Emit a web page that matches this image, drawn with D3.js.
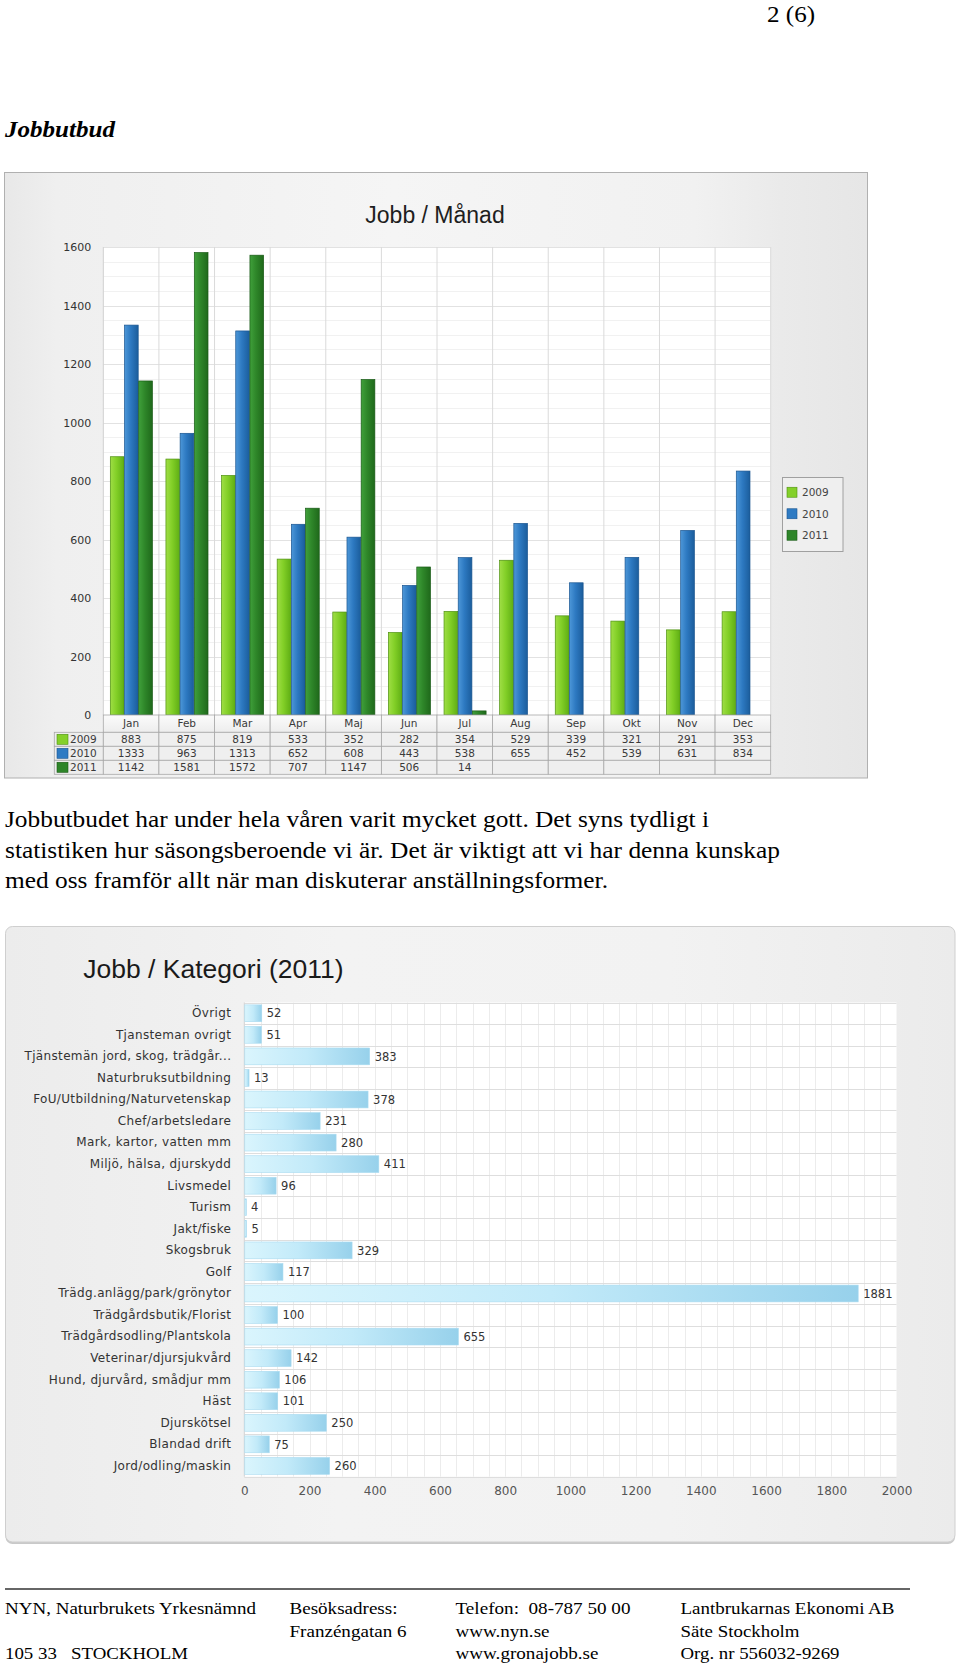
<!DOCTYPE html>
<html><head><meta charset="utf-8">
<script src="https://cdn.jsdelivr.net/npm/d3@7"></script>
<style>html,body{margin:0;padding:0;background:#fff;} svg{display:block;}</style>
</head><body>
<svg id="page" width="960" height="1664"></svg>
<script>
// ---------- DATA ----------
const months = ["Jan","Feb","Mar","Apr","Maj","Jun","Jul","Aug","Sep","Okt","Nov","Dec"];
const years = ["2009","2010","2011"];
const jobs2009 = [883, 875, 819, 533, 352, 282, 354, 529, 339, 321, 291, 353];
const jobs2010 = [1333, 963, 1313, 652, 608, 443, 538, 655, 452, 539, 631, 834];
const jobs2011 = [1142, 1581, 1572, 707, 1147, 506, 14, null, null, null, null, null];
const yTicksMonth = [0, 200, 400, 600, 800, 1000, 1200, 1400, 1600];

const categories = ["Övrigt","Tjansteman ovrigt","Tjänstemän jord, skog, trädgår...","Naturbruksutbildning",
  "FoU/Utbildning/Naturvetenskap","Chef/arbetsledare","Mark, kartor, vatten mm","Miljö, hälsa, djurskydd",
  "Livsmedel","Turism","Jakt/fiske","Skogsbruk","Golf","Trädg.anlägg/park/grönytor","Trädgårdsbutik/Florist",
  "Trädgårdsodling/Plantskola","Veterinar/djursjukvård","Hund, djurvård, smådjur mm","Häst","Djurskötsel",
  "Blandad drift","Jord/odling/maskin"];
const categoryValues = [52, 51, 383, 13, 378, 231, 280, 411, 96, 4, 5, 329, 117, 1881, 100, 655, 142, 106, 101, 250, 75, 260];
const xTicksCategory = [0, 200, 400, 600, 800, 1000, 1200, 1400, 1600, 1800, 2000];

const pageNumber = "2 (6)";
const heading = "Jobbutbud";
const chartTitle1 = "Jobb / Månad";
const chartTitle2 = "Jobb / Kategori (2011)";
const bodyLines = [
  "Jobbutbudet har under hela våren varit mycket gott. Det syns tydligt i",
  "statistiken hur säsongsberoende vi är. Det är viktigt att vi har denna kunskap",
  "med oss framför allt när man diskuterar anställningsformer."
];
const footerCols = [
  ["NYN, Naturbrukets Yrkesnämnd", "", "105 33\u00a0\u00a0 STOCKHOLM"],
  ["Besöksadress:", "Franzéngatan 6", ""],
  ["Telefon:\u00a0 08-787 50 00", "www.nyn.se", "www.gronajobb.se"],
  ["Lantbrukarnas Ekonomi AB", "Säte Stockholm", "Org. nr 556032-9269"]
];

// ---------- SETUP ----------
const svg = d3.select("#page");
const defs = svg.append("defs");
svg.append("rect").attr("width",960).attr("height",1664).attr("fill","#fff");

function grad(id, stops, vertical) {
  const g = defs.append("linearGradient").attr("id", id)
    .attr("x1",0).attr("y1",0).attr("x2", vertical?0:1).attr("y2", vertical?1:0);
  stops.forEach(s => g.append("stop").attr("offset", s[0]).attr("stop-color", s[1]));
}
grad("panel1", [[0,"#e8e8e8"],[0.06,"#efefef"],[0.45,"#f5f5f5"],[0.8,"#f1f1f1"],[0.9,"#eaeaea"],[1,"#e6e6e6"]]);
grad("panel2", [[0,"#ececec"],[0.35,"#f3f3f3"],[0.7,"#f2f2f2"],[1,"#ebebeb"]]);
const seriesColors = {
  "2009": {stops:[[0,"#9fde45"],[0.45,"#82cf27"],[1,"#5fae14"]], stroke:"#4e9010", swatch:"#84d02a"},
  "2010": {stops:[[0,"#4d97d8"],[0.45,"#2d79c1"],[1,"#1b5d9c"]], stroke:"#1a5590", swatch:"#2f7bc3"},
  "2011": {stops:[[0,"#40a03b"],[0.45,"#2e8629"],[1,"#1f691b"]], stroke:"#195a16", swatch:"#2e8529"}
};
years.forEach(y => grad("bar"+y, seriesColors[y].stops));
grad("catbar", [[0,"#daf5fd"],[0.5,"#c2eaf9"],[1,"#97d1eb"]]);
grad("hdr", [[0,"#fbfbfb"],[1,"#ededed"]], true);

const serif = "'Liberation Serif','Times New Roman',Times,serif";
const sans = "'Liberation Sans',Arial,sans-serif";
const verd = "'DejaVu Sans',Verdana,sans-serif";
const fmt = d3.format("d");

// ---------- PAGE TEXT ----------
svg.append("text").attr("x",767).attr("y",22).attr("font-family",serif).attr("font-size",23)
  .attr("textLength",48).attr("lengthAdjust","spacingAndGlyphs").text(pageNumber);
svg.append("text").attr("x",5).attr("y",137).attr("font-family",serif).attr("font-size",24)
  .attr("font-weight","bold").attr("font-style","italic")
  .attr("textLength",110).attr("lengthAdjust","spacingAndGlyphs").text(heading);

const bodyLen = [704, 775, 603];
svg.append("g").selectAll("text").data(bodyLines).join("text")
  .attr("x",5).attr("y",(d,i)=>827 + i*30.5)
  .attr("font-family",serif).attr("font-size",23).attr("fill","#000")
  .attr("textLength",(d,i)=>bodyLen[i]).attr("lengthAdjust","spacingAndGlyphs")
  .text(d=>d);

// ---------- CHART 1: Jobb / Månad ----------
const p1 = {x:4.5, y:172.5, w:863, h:605.5};
svg.append("rect").attr("x",p1.x).attr("y",p1.y).attr("width",p1.w).attr("height",p1.h)
  .attr("fill","url(#panel1)").attr("stroke","#b0b0b0").attr("stroke-width",1);

const x0 = d3.scaleBand().domain(months).range([103.3, 770.7]).padding(0);
const x1 = d3.scaleBand().domain(years).range([0, x0.bandwidth()]).paddingInner(0).paddingOuter(0.46);
const y1 = d3.scaleLinear().domain([0,1600]).range([715, 247]);

const g1 = svg.append("g");
g1.append("rect").attr("x",x0.range()[0]).attr("y",y1(1600)).attr("width",x0.range()[1]-x0.range()[0])
  .attr("height",y1(0)-y1(1600)).attr("fill","#fff");
g1.append("g").selectAll("line").data(y1.ticks(32)).join("line")
  .attr("x1",x0.range()[0]).attr("x2",x0.range()[1]).attr("y1",d=>Math.round(y1(d))+0.5).attr("y2",d=>Math.round(y1(d))+0.5)
  .attr("stroke",d=> d%200===0 ? "#e2e2e2" : "#f1f1f1");
g1.append("g").selectAll("line").data(months.slice(1)).join("line")
  .attr("x1",d=>x0(d)).attr("x2",d=>x0(d)).attr("y1",y1(1600)).attr("y2",y1(0))
  .attr("stroke","#dadada");
g1.append("line").attr("x1",x0.range()[0]).attr("x2",x0.range()[0]).attr("y1",y1(1600)).attr("y2",y1(0)).attr("stroke","#d0d0d0");
g1.append("line").attr("x1",x0.range()[1]).attr("x2",x0.range()[1]).attr("y1",y1(1600)).attr("y2",y1(0)).attr("stroke","#dadada");

const yAxis1 = d3.axisLeft(y1).tickValues(yTicksMonth).tickFormat(fmt).tickSize(0).tickPadding(12);
const ya = g1.append("g").attr("transform",`translate(${x0.range()[0]},0)`).call(yAxis1);
ya.select(".domain").remove();
ya.selectAll("text").attr("font-family",verd).attr("font-size",11).attr("fill","#333");

const seriesData = {"2009":jobs2009, "2010":jobs2010, "2011":jobs2011};
const barData = [];
months.forEach((m,i)=> years.forEach(y=>{ const v = seriesData[y][i]; if (v!=null) barData.push({m, y, v}); }));
g1.append("g").selectAll("rect").data(barData).join("rect")
  .attr("x",d=>x0(d.m)+x1(d.y)+0.5).attr("y",d=>y1(d.v))
  .attr("width",x1.bandwidth()-0.5).attr("height",d=>y1(0)-y1(d.v))
  .attr("fill",d=>`url(#bar${d.y})`).attr("stroke",d=>seriesColors[d.y].stroke).attr("stroke-width",0.7);

svg.append("text").attr("x",435).attr("y",222.5).attr("text-anchor","middle")
  .attr("font-family",sans).attr("font-size",23).attr("fill","#1e1e1e").text(chartTitle1);

// data table
const tbl = svg.append("g").attr("font-family",verd).attr("font-size",10.5).attr("fill","#3a3a3a");
const rowY = d3.scaleBand().domain(years).range([732.3, 774.3]);
const hdrTop = y1(0), hdrH = 732.3 - y1(0);
tbl.append("g").selectAll("rect").data(months).join("rect")
  .attr("x",d=>x0(d)).attr("y",hdrTop).attr("width",x0.bandwidth()).attr("height",hdrH)
  .attr("fill","url(#hdr)").attr("stroke","#a8a8a8").attr("stroke-width",0.8);
tbl.append("g").selectAll("text").data(months).join("text")
  .attr("x",d=>x0(d)+x0.bandwidth()/2).attr("y",hdrTop+hdrH/2).attr("dy","0.36em")
  .attr("text-anchor","middle").text(d=>d);
years.forEach(yr=>{
  const r = tbl.append("g");
  r.append("rect").attr("x",54.3).attr("y",rowY(yr)).attr("width",x0.range()[0]-54.3).attr("height",rowY.bandwidth())
    .attr("fill","#ededed").attr("stroke","#a8a8a8").attr("stroke-width",0.8);
  r.append("rect").attr("x",57).attr("y",rowY(yr)+2).attr("width",11).attr("height",10)
    .attr("fill",seriesColors[yr].swatch).attr("stroke",seriesColors[yr].stroke).attr("stroke-width",0.6);
  r.append("text").attr("x",70).attr("y",rowY(yr)+rowY.bandwidth()/2).attr("dy","0.36em").text(yr);
  r.selectAll("rect.cell").data(months).join("rect").attr("class","cell")
    .attr("x",d=>x0(d)).attr("y",rowY(yr)).attr("width",x0.bandwidth()).attr("height",rowY.bandwidth())
    .attr("fill","#efefef").attr("stroke","#a8a8a8").attr("stroke-width",0.8);
  r.selectAll("text.val").data(months.map((m,i)=>({m, v:seriesData[yr][i]})).filter(d=>d.v!=null)).join("text")
    .attr("class","val").attr("x",d=>x0(d.m)+x0.bandwidth()/2).attr("y",rowY(yr)+rowY.bandwidth()/2).attr("dy","0.36em")
    .attr("text-anchor","middle").text(d=>d.v);
});

// legend
const lg = svg.append("g").attr("font-family",verd).attr("font-size",10.5).attr("fill","#444");
lg.append("rect").attr("x",782.5).attr("y",477.5).attr("width",60.5).attr("height",74)
  .attr("fill","#efefef").attr("stroke","#a0a0a0");
const lgY = d3.scaleBand().domain(years).range([481.5, 546]);
lg.selectAll("rect.sw").data(years).join("rect").attr("class","sw")
  .attr("x",787).attr("y",d=>lgY(d)+lgY.bandwidth()/2-5).attr("width",10).attr("height",10)
  .attr("fill",d=>seriesColors[d].swatch).attr("stroke",d=>seriesColors[d].stroke).attr("stroke-width",0.6);
lg.selectAll("text").data(years).join("text")
  .attr("x",802).attr("y",d=>lgY(d)+lgY.bandwidth()/2).attr("dy","0.36em").text(d=>d);

// ---------- CHART 2: Jobb / Kategori ----------
const p2 = {x:5.5, y:926.5, w:949.5, h:615.5};
svg.append("rect").attr("x",p2.x).attr("y",p2.y+2).attr("width",p2.w).attr("height",p2.h)
  .attr("rx",7).attr("fill","#c9c9c9");
svg.append("rect").attr("x",p2.x).attr("y",p2.y).attr("width",p2.w).attr("height",p2.h)
  .attr("rx",7).attr("fill","url(#panel2)").attr("stroke","#cfcfcf");

const x2 = d3.scaleLinear().domain([0,2000]).range([244.3, 896.5]);
const yb = d3.scaleBand().domain(categories).range([1002.5, 1476.7]).paddingInner(0.22).paddingOuter(0.11);
const g2 = svg.append("g");
g2.append("rect").attr("x",x2(0)).attr("y",yb.range()[0]).attr("width",x2(2000)-x2(0))
  .attr("height",yb.range()[1]-yb.range()[0]).attr("fill","#fff");
g2.append("g").selectAll("line").data(x2.ticks(40)).join("line")
  .attr("x1",d=>Math.round(x2(d))+0.5).attr("x2",d=>Math.round(x2(d))+0.5)
  .attr("y1",yb.range()[0]).attr("y2",yb.range()[1]).attr("stroke","#ececec");
const rowEdges = d3.range(categories.length+1).map(i=>yb.range()[0]+i*yb.step());
g2.append("g").selectAll("line").data(rowEdges).join("line")
  .attr("x1",x2(0)).attr("x2",x2(2000)).attr("y1",d=>Math.round(d)+0.5).attr("y2",d=>Math.round(d)+0.5)
  .attr("stroke","#dedede");
g2.append("line").attr("x1",x2(0)).attr("x2",x2(0)).attr("y1",yb.range()[0]).attr("y2",yb.range()[1]).attr("stroke","#d6d6d6");

g2.append("g").selectAll("rect").data(categories.map((c,i)=>({c, v:categoryValues[i]}))).join("rect")
  .attr("x",x2(0)+0.5).attr("y",d=>yb(d.c)).attr("width",d=>Math.max(1.5, x2(d.v)-x2(0)))
  .attr("height",yb.bandwidth()).attr("fill","url(#catbar)").attr("stroke","#a9dbf0").attr("stroke-width",0.6);
g2.append("g").selectAll("text").data(categories.map((c,i)=>({c, v:categoryValues[i]}))).join("text")
  .attr("x",d=>x2(d.v)+5.5).attr("y",d=>yb(d.c)+yb.bandwidth()/2).attr("dy","0.36em")
  .attr("font-family",verd).attr("font-size",11.5).attr("fill","#333").text(d=>d.v);
const ax2 = g2.append("g").attr("transform",`translate(${x2(0)},0)`).call(d3.axisLeft(yb).tickSize(0).tickPadding(13));
ax2.select(".domain").remove();
ax2.selectAll("text").attr("font-family",verd).attr("font-size",12).attr("fill","#333").attr("letter-spacing",0.35);
const ax3 = g2.append("g").attr("transform",`translate(0,${yb.range()[1]})`)
  .call(d3.axisBottom(x2).tickValues(xTicksCategory).tickFormat(fmt).tickSize(0).tickPadding(10));
ax3.select(".domain").remove();
ax3.selectAll("text").attr("font-family",verd).attr("font-size",12).attr("fill","#555");

svg.append("text").attr("x",83.3).attr("y",978).attr("font-family",sans).attr("font-size",26.5)
  .attr("fill","#1a1a1a").text(chartTitle2);

// ---------- FOOTER ----------
svg.append("line").attr("x1",5).attr("x2",910).attr("y1",1589).attr("y2",1589).attr("stroke","#333").attr("stroke-width",1.4);
const colX = [5, 289.5, 455.5, 680.5];
const footLen = [[251, 0, 183],[108, 117, 0],[175, 94, 143],[214, 119, 159]];
const fg = svg.append("g").attr("font-family",serif).attr("font-size",17).attr("fill","#000");
footerCols.forEach((col,ci)=>col.forEach((t,ri)=>{
  if (!t) return;
  fg.append("text").attr("x",colX[ci]).attr("y",1614 + ri*22.5)
    .attr("textLength",footLen[ci][ri]).attr("lengthAdjust","spacingAndGlyphs").text(t);
}));
</script>
</body></html>
